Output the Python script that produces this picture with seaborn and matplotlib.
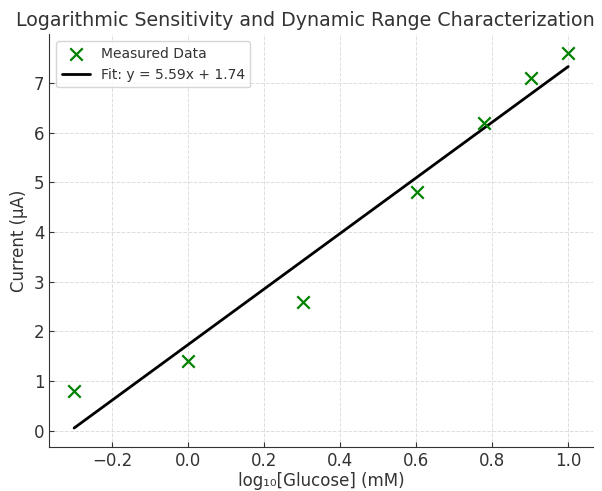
import numpy as np
import pandas as pd
import matplotlib
matplotlib.use("Agg")
import matplotlib.pyplot as plt
import seaborn as sns

log_glucose = [-0.301, 0.0, 0.301, 0.602, 0.778, 0.903, 1.0]
current = [0.8, 1.4, 2.6, 4.8, 6.2, 7.1, 7.6]
slope = 5.59
intercept = 1.74

sns.set_style("ticks")
plt.rcParams.update({
    "text.color": "#333333",
    "axes.labelcolor": "#333333",
    "xtick.color": "#333333",
    "ytick.color": "#333333",
    "axes.edgecolor": "#333333",
    "xtick.direction": "in",
    "ytick.direction": "in",
})

df = pd.DataFrame({"x": log_glucose, "y": current})
fit_x = np.array([min(log_glucose), max(log_glucose)])
fit_df = pd.DataFrame({"x": fit_x, "y": slope * fit_x + intercept})

fig, ax = plt.subplots(figsize=(6.02, 4.91), dpi=100)
sns.scatterplot(data=df, x="x", y="y", marker="x", color="green", s=80,
                linewidth=1.6, label="Measured Data", ax=ax, zorder=3)
sns.lineplot(data=fit_df, x="x", y="y", color="black", linewidth=2,
             label=f"Fit: y = {slope:.2f}x + {intercept:.2f}", ax=ax)

ax.grid(True, linestyle="--", color="#dddddd", linewidth=0.7)
ax.set_axisbelow(True)
sns.despine(ax=ax)
ax.set_xlabel("log₁₀[Glucose] (mM)", fontsize=12, labelpad=2)
ax.set_ylabel("Current (μA)", fontsize=12)
ax.tick_params(labelsize=12)
ax.legend(loc="upper left", fontsize=10, frameon=True)
fig.subplots_adjust(left=0.082, right=0.985, top=0.93, bottom=0.09)
fig.text(305 / 602, 1 - 20 / 491, "Logarithmic Sensitivity and Dynamic Range Characterization",
         fontsize=13.7, ha="center", va="center", color="#333333")
fig.savefig("out.png", dpi=100)
